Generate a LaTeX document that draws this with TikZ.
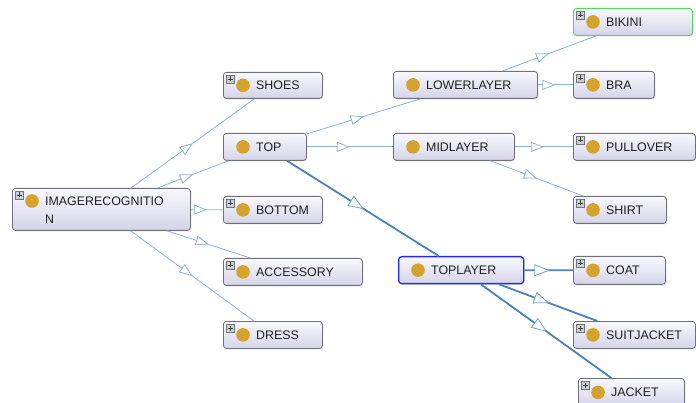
\documentclass[tikz,border=0pt]{standalone}
\usepackage{fontspec}
\setmainfont{Liberation Sans}
\usetikzlibrary{arrows.meta,decorations.markings,shadows}
\definecolor{nbtop}{RGB}{248,248,253}
\definecolor{nbbot}{RGB}{212,212,233}
\definecolor{nbdraw}{RGB}{112,112,120}
\definecolor{dotc}{RGB}{214,162,46}
\definecolor{thinc}{RGB}{140,180,216}
\definecolor{thickc}{RGB}{72,132,188}
\definecolor{selc}{RGB}{40,40,230}
\definecolor{grnc}{RGB}{90,215,90}
\definecolor{plusf}{RGB}{200,208,218}
\tikzset{
  nbox/.style={draw=nbdraw, line width=0.8pt, rounded corners=3pt, top color=nbtop, bottom color=nbbot, inner sep=0pt, drop shadow={shadow xshift=1pt, shadow yshift=-1pt, opacity=0.25}},
  lblfont/.style={inner sep=0pt, font=\fontsize{12.4}{18}\selectfont, text=black!88},
  lbl/.style={lblfont, text height=8.9pt, text depth=0pt},
  plusbox/.style={draw=black!55, fill=plusf, line width=0.5pt, minimum size=8pt, inner sep=0pt},
  oarr/.tip={Triangle[length=13pt, width=10pt, fill=white]},
  midarrow/.style={postaction={decorate, decoration={markings, mark=at position 0.5 with {\arrow{oarr}}}}},
  thinedge/.style={draw=thinc, line width=0.8pt, midarrow},
  thickedge/.style={draw=thickc, line width=1.8pt, postaction={decorate, decoration={markings, mark=at position 0.5 with {\draw[thinc!60!thickc,line width=0.8pt,fill=white] (0pt,0pt) -- (-14pt,5.5pt) -- (-14pt,-5.5pt) -- cycle;}}}},
}
\newcommand{\onode}[8]{%
  \node[nbox, #8, minimum width={#4pt-#2pt}, minimum height={#5pt-#3pt}, anchor=north west] (#1) at (#2,#3) {};
  \fill[dotc] ([xshift=20pt]#1.west) circle (6.8pt);
  \node[lbl, anchor=west] at ([xshift=33pt]#1.west) {#6};
  \ifnum#7=1
    \node[plusbox] (#1p) at ([xshift=7pt,yshift=-7pt]#1.north west) {};
    \draw[black!75, line width=0.6pt] ([xshift=-2.5pt]#1p.center) -- ([xshift=2.5pt]#1p.center) ([yshift=-2.5pt]#1p.center) -- ([yshift=2.5pt]#1p.center);
  \fi
}
\begin{document}
\begin{tikzpicture}[x=1pt, y=-1pt]
\useasboundingbox[fill=white] (0,0) rectangle (696,403);
% root
\node[nbox, minimum width=178pt, minimum height=42pt, anchor=north west] (img) at (12,188) {};
\fill[dotc] (32,201) circle (6.8pt);
\node[lblfont, anchor=north west, align=left] at (45,196.5) {IMAGERECOGNITIO\\N};
\node[plusbox] (imgp) at ([xshift=7pt,yshift=-7pt]img.north west) {};
\draw[black!75, line width=0.6pt] ([xshift=-2.5pt]imgp.center) -- ([xshift=2.5pt]imgp.center) ([yshift=-2.5pt]imgp.center) -- ([yshift=2.5pt]imgp.center);
% level 1
\onode{shoes}{223}{72}{322}{98}{SHOES}{1}{}
\onode{top}{223}{133}{306}{160}{TOP}{0}{}
\onode{bottom}{223}{196}{322}{223}{BOTTOM}{1}{}
\onode{accessory}{223}{258}{362}{285}{ACCESSORY}{1}{}
\onode{dress}{223}{321}{322}{348}{DRESS}{1}{}
% level 2
\onode{lower}{393}{71}{537}{98}{LOWERLAYER}{0}{}
\onode{mid}{393}{133}{514}{160}{MIDLAYER}{0}{}
\onode{toplayer}{398}{256}{523}{283}{TOPLAYER}{0}{draw=selc, line width=1.3pt}
% level 3
\onode{bikini}{573}{8}{692}{35}{BIKINI}{1}{draw=grnc, line width=0.9pt}
\onode{bra}{573}{71}{654}{98}{BRA}{1}{}
\onode{pullover}{573}{133}{695}{160}{PULLOVER}{1}{}
\onode{shirt}{573}{196}{666}{223}{SHIRT}{1}{}
\onode{coat}{573}{256}{665}{284}{COAT}{1}{}
\onode{suitjacket}{573}{321}{695}{348}{SUITJACKET}{1}{}
\onode{jacket}{578}{378}{684}{406}{JACKET}{1}{}
% edges
\draw[thinedge] (img) -- (shoes);
\draw[thinedge] (img) -- (top);
\draw[thinedge] (img) -- (bottom);
\draw[thinedge] (img) -- (accessory);
\draw[thinedge] (img) -- (dress);
\draw[thinedge] (top) -- (lower);
\draw[thinedge] (top) -- (mid);
\draw[thickedge] (top) -- (toplayer);
\draw[thinedge] (lower) -- (bikini);
\draw[thinedge] (lower) -- (bra);
\draw[thinedge] (mid) -- (pullover);
\draw[thinedge] (mid) -- (shirt);
\draw[thickedge] (toplayer) -- (coat);
\draw[thickedge] (toplayer) -- (suitjacket);
\draw[thickedge] (toplayer) -- (jacket);
\end{tikzpicture}
\end{document}
